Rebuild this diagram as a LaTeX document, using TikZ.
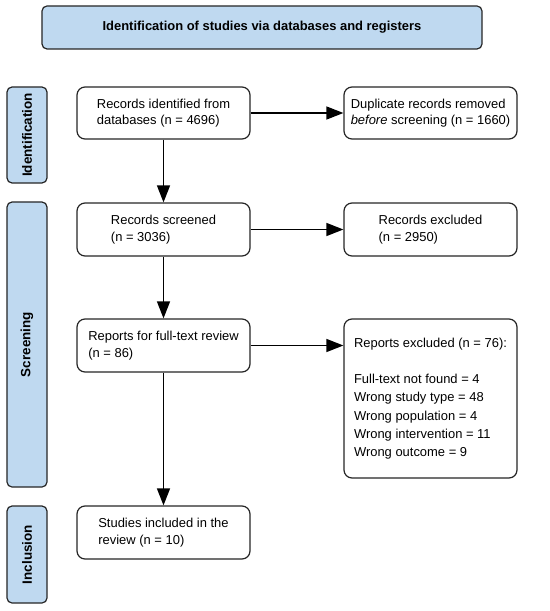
\documentclass[tikz,border=0pt]{standalone}
\usepackage{fontspec}
\setmainfont{Liberation Sans}
\usetikzlibrary{arrows.meta}
\definecolor{phase}{HTML}{BFD9F0}
\begin{document}
\begin{tikzpicture}[x=1bp,y=-1bp,
  box/.style={draw=black!85,line width=1.2bp,rounded corners=8bp,fill=white,
    minimum width=173bp,minimum height=52bp,align=left,inner sep=2bp,
    font=\fontsize{13}{16.7}\selectfont},
  phasebox/.style={draw=black!85,line width=1.2bp,rounded corners=5bp,fill=phase,
    rotate=90,minimum height=40bp,inner sep=2bp,font=\bfseries\fontsize{13.5}{15}\selectfont},
  arr/.style={line width=1.3bp,-{Triangle[length=17bp,width=13bp]}}]
\useasboundingbox (0,0) rectangle (550,611);
\node[draw=black!85,line width=1.2bp,rounded corners=5bp,fill=phase,
  minimum width=440bp,minimum height=43bp,font=\bfseries\fontsize{13}{15}\selectfont]
  (title) at (262,27.5) {Identification of studies via databases and registers};
\node[phasebox,minimum width=96bp] (pid) at (27,135) {Identification};
\node[phasebox,minimum width=285bp] (psc) at (27,344.5) {Screening};
\node[phasebox,minimum width=97bp] (pin) at (27,554.5) {Inclusion};
\node[box] (ident) at (163.5,113) {Records identified from\\databases (n = 4696)};
\node[box] (dup) at (430.5,113) {Duplicate records removed\\\textit{before} screening (n = 1660)};
\node[box,minimum height=53bp] (scr) at (163.5,229.5) {Records screened\\(n = 3036)};
\node[box,minimum height=53bp] (exc) at (430.5,229.5) {Records excluded\\(n = 2950)};
\node[box,minimum height=53bp] (rep) at (163.5,345.5) {Reports for full-text review\\(n = 86)};
\node[box,minimum height=159bp,font=\fontsize{13}{18.2}\selectfont] (repexc) at (430.5,398.5)
  {Reports excluded (n = 76):\\[18.2bp]Full-text not found = 4\\Wrong study type = 48\\Wrong population = 4\\Wrong intervention = 11\\Wrong outcome = 9};
\node[box,minimum height=53bp] (inc) at (163.5,532.5) {Studies included in the\\review (n = 10)};
\draw[arr] (ident) -- (scr);
\draw[arr] (scr) -- (rep);
\draw[arr] (rep) -- (inc);
\draw[arr] (ident) -- (dup);
\draw[arr] (scr) -- (exc);
\draw[arr] (rep.east) -- (rep.east -| repexc.west);
\end{tikzpicture}
\end{document}
